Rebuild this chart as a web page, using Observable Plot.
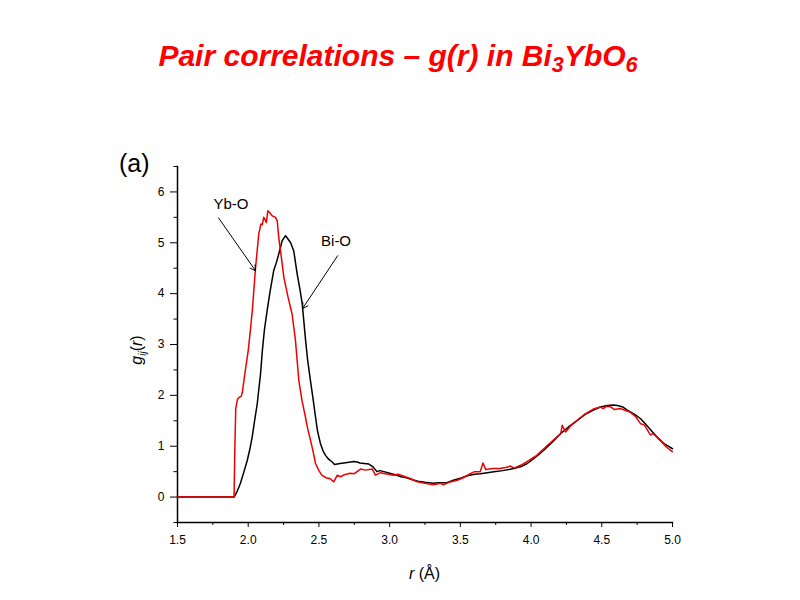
<!DOCTYPE html>
<html>
<head>
<meta charset="utf-8">
<script src="https://cdn.jsdelivr.net/npm/d3@7"></script>
<script src="https://cdn.jsdelivr.net/npm/@observablehq/plot@0.6"></script>
<style>
  html, body { margin: 0; padding: 0; background: white; }
  #wrap { position: relative; width: 800px; height: 600px; }
  #title { position: absolute; left: 0; width: 796px; top: 41px; text-align: center;
    font-family: "Liberation Sans", Arial, sans-serif; font-weight: bold; font-style: italic;
    font-size: 30px; line-height: 30px; color: #f00; z-index: 2; }
  #title sub { font-size: 0.72em; vertical-align: -0.28em; line-height: 0; }
</style>
</head>
<body>
<div id="wrap">
  <div id="title">Pair correlations – g(r) in Bi<sub>3</sub>YbO<sub>6</sub></div>
  <div id="chart"></div>
</div>
<script>
// Bi-O pair correlation
const rBiO = [1.5, 1.9, 1.92, 1.945, 1.97, 1.993, 2.01, 2.028, 2.045, 2.064, 2.087, 2.1, 2.115, 2.134, 2.155, 2.18, 2.2, 2.216, 2.24, 2.264, 2.28, 2.3, 2.322, 2.346, 2.365, 2.382, 2.405, 2.42, 2.44, 2.46, 2.476, 2.49, 2.51, 2.53, 2.547, 2.57, 2.594, 2.61, 2.63, 2.65, 2.7, 2.747, 2.77, 2.79, 2.82, 2.853, 2.88, 2.91, 2.93, 2.96, 3.0, 3.04, 3.08, 3.12, 3.16, 3.2, 3.25, 3.31, 3.35, 3.4, 3.45, 3.5, 3.55, 3.6, 3.643, 3.69, 3.737, 3.8, 3.878, 3.93, 3.973, 4.03, 4.09, 4.15, 4.21, 4.27, 4.327, 4.38, 4.44, 4.49, 4.539, 4.58, 4.61, 4.65, 4.68, 4.73, 4.775, 4.82, 4.868, 4.9, 4.94, 4.97, 5.0];
const gBiO = [0, 0, 0.1, 0.27, 0.5, 0.72, 0.92, 1.18, 1.5, 1.84, 2.42, 2.88, 3.3, 3.67, 4.05, 4.45, 4.62, 4.78, 5.04, 5.14, 5.08, 5.0, 4.84, 4.39, 4.1, 3.8, 3.1, 2.7, 2.29, 1.9, 1.57, 1.3, 1.06, 0.9, 0.82, 0.74, 0.69, 0.64, 0.65, 0.66, 0.68, 0.70, 0.69, 0.67, 0.66, 0.65, 0.6, 0.5, 0.52, 0.5, 0.47, 0.44, 0.4, 0.38, 0.34, 0.31, 0.29, 0.27, 0.28, 0.28, 0.33, 0.37, 0.42, 0.45, 0.46, 0.48, 0.5, 0.52, 0.56, 0.6, 0.66, 0.78, 0.92, 1.08, 1.25, 1.39, 1.51, 1.62, 1.71, 1.77, 1.80, 1.81, 1.80, 1.77, 1.71, 1.63, 1.54, 1.40, 1.25, 1.15, 1.05, 1.0, 0.95];
// Yb-O pair correlation
const rYbO = [1.5, 1.9, 1.905, 1.912, 1.925, 1.935, 1.95, 1.958, 1.975, 2.0, 2.016, 2.03, 2.05, 2.06, 2.075, 2.09, 2.1, 2.11, 2.12, 2.128, 2.139, 2.155, 2.17, 2.193, 2.205, 2.216, 2.235, 2.252, 2.28, 2.31, 2.334, 2.358, 2.38, 2.405, 2.42, 2.44, 2.46, 2.476, 2.5, 2.52, 2.55, 2.58, 2.605, 2.63, 2.653, 2.68, 2.72, 2.75, 2.794, 2.83, 2.877, 2.9, 2.936, 2.97, 3.03, 3.06, 3.1, 3.15, 3.195, 3.25, 3.31, 3.36, 3.38, 3.42, 3.478, 3.52, 3.57, 3.6, 3.64, 3.66, 3.68, 3.73, 3.78, 3.82, 3.855, 3.88, 3.93, 3.985, 4.04, 4.09, 4.15, 4.21, 4.22, 4.244, 4.28, 4.327, 4.38, 4.44, 4.49, 4.51, 4.53, 4.56, 4.59, 4.63, 4.7, 4.74, 4.775, 4.8, 4.845, 4.86, 4.916, 4.95, 5.0];
const gYbO = [0, 0, 0.9, 1.75, 1.93, 1.96, 1.98, 2.05, 2.4, 2.88, 3.3, 3.7, 4.45, 4.75, 5.18, 5.37, 5.36, 5.5, 5.45, 5.4, 5.63, 5.58, 5.53, 5.5, 5.43, 5.1, 4.7, 4.32, 3.95, 3.6, 3.08, 2.29, 1.9, 1.57, 1.35, 1.12, 0.88, 0.66, 0.52, 0.43, 0.38, 0.36, 0.30, 0.43, 0.40, 0.44, 0.47, 0.46, 0.55, 0.53, 0.55, 0.43, 0.48, 0.46, 0.43, 0.45, 0.41, 0.36, 0.30, 0.27, 0.24, 0.27, 0.24, 0.29, 0.33, 0.38, 0.46, 0.5, 0.5, 0.67, 0.54, 0.56, 0.56, 0.58, 0.61, 0.57, 0.63, 0.72, 0.82, 0.95, 1.1, 1.25, 1.41, 1.28, 1.4, 1.51, 1.63, 1.73, 1.77, 1.74, 1.78, 1.78, 1.72, 1.74, 1.67, 1.58, 1.44, 1.42, 1.22, 1.25, 1.12, 1.0, 0.89];

const xMajor = [1.5, 2.0, 2.5, 3.0, 3.5, 4.0, 4.5, 5.0];
const xMinor = [1.75, 2.25, 2.75, 3.25, 3.75, 4.25, 4.75];
const yMajor = [0, 1, 2, 3, 4, 5, 6];
const yMinor = [-0.5, 0.5, 1.5, 2.5, 3.5, 4.5, 5.5, 6.5];

// annotation labels and arrows (data units)
const labelNames = ["Yb-O", "Bi-O"];
const labelR = [1.878, 2.621];
const labelG = [5.75, 5.04];
const arrowR1 = [1.79, 2.632];
const arrowG1 = [5.49, 4.745];
const arrowR2 = [2.052, 2.384];
const arrowG2 = [4.45, 3.706];

const biData = rBiO.map((r, i) => ({r, g: gBiO[i]}));
const ybData = rYbO.map((r, i) => ({r, g: gYbO[i]}));
const labels = labelNames.map((t, i) => ({t, r: labelR[i], g: labelG[i]}));
const arrows = labelNames.map((t, i) => ({r1: arrowR1[i], g1: arrowG1[i], r2: arrowR2[i], g2: arrowG2[i]}));

const chart = Plot.plot({
  width: 800, height: 600,
  marginLeft: 177, marginRight: 128, marginTop: 166, marginBottom: 78,
  style: {fontFamily: "'Liberation Sans', Arial, sans-serif", fontSize: "12px", background: "white", color: "black"},
  x: {domain: [1.5, 5.0]},
  y: {domain: [-0.5, 6.5]},
  marks: [
    Plot.axisX({ticks: xMajor, tickFormat: d3.format(".1f"), tickSize: 5, tickPadding: 8, label: null, fontSize: 12}),
    Plot.axisX({ticks: xMinor, tickSize: 3, text: null, label: null}),
    Plot.axisY({ticks: yMajor, tickFormat: d3.format("d"), tickSize: 7, tickPadding: 6, label: null, fontSize: 12}),
    Plot.axisY({ticks: yMinor, tickSize: 3.5, text: null, label: null}),
    Plot.frame({anchor: "left", strokeWidth: 1.5}),
    Plot.frame({anchor: "bottom", strokeWidth: 1.5}),
    Plot.line(biData, {x: "r", y: "g", stroke: "black", strokeWidth: 1.5}),
    Plot.line(ybData, {x: "r", y: "g", stroke: "#ee0000", strokeWidth: 1.5}),
    Plot.arrow(arrows, {x1: "r1", y1: "g1", x2: "r2", y2: "g2", stroke: "black", strokeWidth: 1, headLength: 9}),
    Plot.text(labels, {x: "r", y: "g", text: "t", fontSize: 15, fill: "black", textAnchor: "middle", lineAnchor: "middle"})
  ]
});
document.getElementById("chart").appendChild(chart);

const svg = d3.select(chart);
// panel label
svg.append("text").attr("x", 119).attr("y", 172).attr("text-anchor", "start")
  .attr("font-family", "'Liberation Sans', Arial, sans-serif").attr("font-size", 25)
  .attr("fill", "black").text("(a)");
// y label
const yl = svg.append("text").attr("transform", "translate(142,350) rotate(-90)")
  .attr("text-anchor", "middle").attr("font-family", "'Liberation Sans', Arial, sans-serif")
  .attr("font-size", 16).attr("fill", "black");
yl.append("tspan").attr("font-style", "italic").text("g");
yl.append("tspan").attr("font-style", "italic").attr("font-size", 10).attr("dy", 4).text("ij");
yl.append("tspan").attr("dy", -4).text("(");
yl.append("tspan").attr("font-style", "italic").text("r");
yl.append("tspan").text(")");
// x label
const xl = svg.append("text").attr("x", 424.5).attr("y", 579)
  .attr("text-anchor", "middle").attr("font-family", "'Liberation Sans', Arial, sans-serif")
  .attr("font-size", 16).attr("fill", "black");
xl.append("tspan").attr("font-style", "italic").text("r");
xl.append("tspan").text(" (Å)");
</script>
</body>
</html>
